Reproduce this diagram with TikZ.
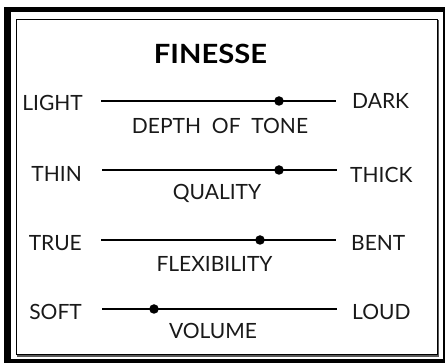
\documentclass[tikz,border=0pt]{standalone}
\usepackage{fontspec}
\setmainfont{Lato}
\begin{document}
\begin{tikzpicture}[x=1pt,y=-1pt,
  lbl/.style={font=\fontsize{21}{21}\selectfont, inner sep=0pt, text=black!90},
  leftlbl/.style={lbl, anchor=base east},
  rightlbl/.style={lbl, anchor=base west},
  midlbl/.style={lbl, anchor=base},
  titlelbl/.style={font=\fontsize{26.5}{26.5}\selectfont\bfseries, inner sep=0pt, anchor=base},
  bar/.style={line width=2pt},
  knob/.style={circle, fill=black, inner sep=0pt, minimum size=9.5pt},
  frameband/.style={fill=black, draw=none}]
\useasboundingbox (0,0) rectangle (445,363);
\fill[white] (0,0) rectangle (445,363);
% outer frame
\fill[frameband] (4,7) rectangle (444,12.5);
\fill[frameband] (4,7) rectangle (11,363);
\fill[frameband] (4,359.5) rectangle (444,363);
\fill[frameband] (443,7) rectangle (444.5,363);
% inner frame
\draw[line width=1pt] (16.5,19.5) rectangle (437.5,355);
\draw[line width=1.4pt, black!65] (438.6,20) -- (438.6,356.2) -- (17,356.2);
% title
\node[titlelbl] (title) at (210.5,64) {\scalebox{1.1}[1]{FINESSE}};
% scale 1
\coordinate (a1) at (101,101);
\coordinate (b1) at (336,101);
\draw[bar] (a1) -- (b1);
\node[knob] (k1) at (279,101) {};
\node[leftlbl] (l1) at (83,111) {LIGHT};
\node[rightlbl] (r1) at (352,109) {DARK};
\node[midlbl] (m1) at (220,134) {DEPTH\ \ OF\ \ TONE};
% scale 2
\coordinate (a2) at (102,170);
\coordinate (b2) at (337,170);
\draw[bar] (a2) -- (b2);
\node[knob] (k2) at (279,170) {};
\node[leftlbl] (l2) at (82,182) {THIN};
\node[rightlbl] (r2) at (350,183) {THICK};
\node[midlbl] (m2) at (217,199.5) {QUALITY};
% scale 3
\coordinate (a3) at (101,240);
\coordinate (b3) at (336,240);
\draw[bar] (a3) -- (b3);
\node[knob] (k3) at (260,240) {};
\node[leftlbl] (l3) at (82,251) {TRUE};
\node[rightlbl] (r3) at (351,251) {BENT};
\node[midlbl] (m3) at (214.5,272) {FLEXIBILITY};
% scale 4
\coordinate (a4) at (102,309);
\coordinate (b4) at (337,309);
\draw[bar] (a4) -- (b4);
\node[knob] (k4) at (154,309) {};
\node[leftlbl] (l4) at (82,320) {SOFT};
\node[rightlbl] (r4) at (352,320) {LOUD};
\node[midlbl] (m4) at (213,339) {VOLUME};
\end{tikzpicture}
\end{document}
